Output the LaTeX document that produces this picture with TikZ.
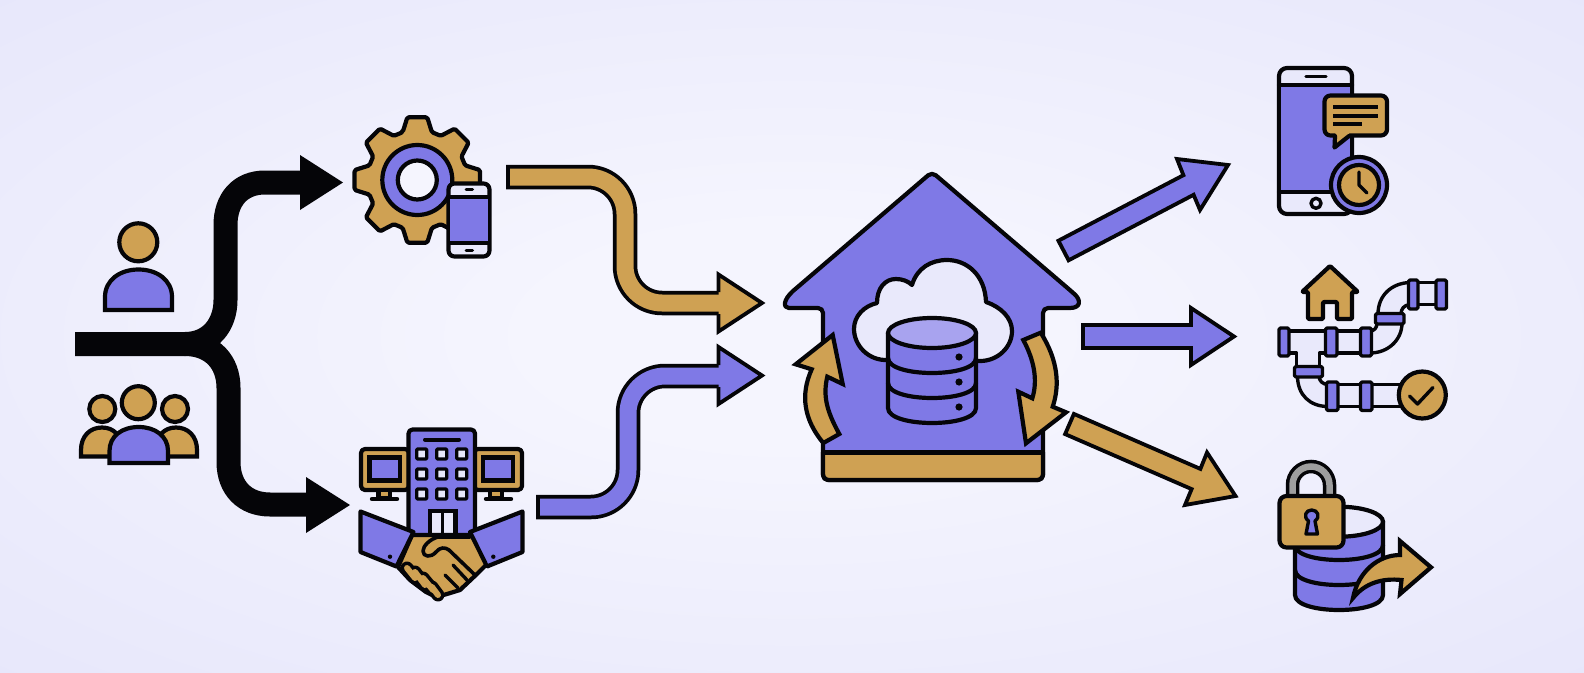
\documentclass[tikz,border=0pt]{standalone}
\usetikzlibrary{calc}
\definecolor{bgedge}{HTML}{E4E4FA}
\definecolor{bgmid}{HTML}{F5F5FE}
\definecolor{purp}{HTML}{7F79E6}
\definecolor{gold}{HTML}{CFA153}
\definecolor{pale}{HTML}{E9E9FB}
\definecolor{ink}{HTML}{050508}
\definecolor{topdb}{HTML}{A8A3EF}
\definecolor{shack}{HTML}{9E9E9E}
\pgfdeclareradialshading{bgglow}{\pgfpoint{0bp}{0bp}}{color(0bp)=(bgmid);color(8bp)=(bgmid);color(42bp)=(bgedge);color(60bp)=(bgedge);color(100bp)=(bgedge)}
\tikzset{
  ol/.style={draw=ink,line width=4.2pt,line join=round,line cap=round},
  ols/.style={ol,line width=3.4pt},
  pf/.style={ol,fill=purp},
  gf/.style={ol,fill=gold},
  wf/.style={ol,fill=pale},
  pfs/.style={ols,fill=purp},
  gfs/.style={ols,fill=gold},
  wfs/.style={ols,fill=pale},
  stroke/.style={draw=ink,line width=4pt,line cap=round,line join=round},
  head/.style={draw=ink,line width=3.8pt,line join=miter},
  tube/.style={line cap=butt,line join=round,rounded corners=37pt},
}
\begin{document}
\begin{tikzpicture}[x=1pt,y=-1pt]
\useasboundingbox (0,0) rectangle (1584,672);
\shade[shading=bgglow] (0,0) rectangle (1584,672);

% --- black branching arrow
\coordinate (trunkL) at (75,344);
\coordinate (trunkR) at (185,344);
\coordinate (upTip) at (343,182.5);
\coordinate (dnTip) at (350,505);
\draw[ink,line width=24pt] (trunkL) -- (trunkR) .. controls (210,344) and (225.5,325) .. (225.5,300) -- (225.5,225) .. controls (225.5,200) and (240,182.5) .. (265,182.5) -- (302,182.5);
\draw[ink,line width=24pt] (trunkR) .. controls (212,344) and (228.5,362) .. (228.5,388) -- (228.5,462) .. controls (228.5,488) and (245,504.5) .. (270,504.5) -- (308,504.5);
\fill[ink] (300,155) -- (upTip) -- (300,210) -- cycle;
\fill[ink] (306,477) -- (dnTip) -- (306,533) -- cycle;

% --- single user
\draw[gf] (138.3,242.3) circle[radius=19];
\draw[pf,line join=miter] (105,310) -- (105,297) .. controls (105,280) and (120,269.5) .. (138.5,269.5) .. controls (157,269.5) and (172,280) .. (172,297) -- (172,310) -- cycle;

% --- group of users
\draw[gf] (102.3,409) circle[radius=13];
\draw[gf] (175,409) circle[radius=13];
\draw[gf] (138.3,402.7) circle[radius=16.5];
\draw[gf,line join=miter] (81,456.5) -- (81,450) .. controls (81,436) and (90,427.5) .. (102,427.5) .. controls (114,427.5) and (122,436) .. (122,450) -- (122,456.5) -- cycle;
\draw[gf,line join=miter] (197,456.5) -- (197,450) .. controls (197,436) and (188,427.5) .. (176,427.5) .. controls (164,427.5) and (156,436) .. (156,450) -- (156,456.5) -- cycle;
\draw[pf,line join=miter] (109.5,463) -- (109.5,451) .. controls (109.5,436) and (122,427) .. (138.8,427) .. controls (155,427) and (168,436) .. (168,451) -- (168,463) -- cycle;

% --- gear with phone
\begin{scope}[shift={(417.3,180)}]
\draw[gf,line join=round,rounded corners=1.5pt] (-107:50)
  \foreach \a in {-90,-45,0,45,90,135,180,225} {
    -- ({\a-17}:50) -- ({\a-9}:63.5) -- ({\a+9}:63.5) -- ({\a+17}:50)
  } -- cycle;
\draw[pf] (0,0) circle[radius=35];
\draw[wf,fill=bgmid] (0,0) circle[radius=19.5];
\end{scope}
\draw[wf,rounded corners=6pt] (448.5,183.5) rectangle (489.5,256.5);
\fill[purp] (450,197) rectangle (488,243);
\draw[ols] (449,197) -- (489,197) (449,243) -- (489,243);
\draw[ink,line width=3pt,line cap=round] (466,189.5) -- (472.5,189.5) (466,250.5) -- (472.5,250.5);

% --- building, monitors, handshake
\draw[gf,rounded corners=4pt] (361,449) rectangle (409,490);
\draw[pf,line join=miter] (369.5,457.5) rectangle (400,480.5);
\draw[gf] (378.5,490) rectangle (390,498);
\draw[ink,line width=4.4pt,line cap=round] (372,499) -- (397,499);
\draw[gf,rounded corners=4pt] (474,449) rectangle (522,490);
\draw[pf,line join=miter] (483,457.5) rectangle (513,480.5);
\draw[gf] (490,490) rectangle (502,498);
\draw[ink,line width=4.4pt,line cap=round] (486,499) -- (511,499);
\draw[pf,rounded corners=4pt] (408.5,540) -- (408.5,429.5) -- (475,429.5) -- (475,540) -- cycle;
\draw[ink,line width=4pt,line cap=round] (425,439.5) -- (459,439.5);
\foreach \x in {421.7,441.7,461.7}
  \foreach \y in {454,474,494}
    \draw[wfs,rounded corners=1pt] (\x-5,\y-5) rectangle (\x+5,\y+5);
\draw[wf,line join=miter] (430,538) -- (430,511) -- (455.5,511) -- (455.5,538);
\draw[ink,line width=3.4pt] (442.7,511) -- (442.7,538);
% hands
\draw[gf] (412,535) -- (472,535) -- (487,564) -- (478,573) -- (460,590) -- (447,594) -- (436,597) -- (426,592) -- (410,580) -- (398,567) -- cycle;
\draw[ols,line width=3.6pt,fill=gold] (470,537) -- (438,537) .. controls (430,539) and (423,546) .. (423,551) .. controls (423,557) and (431,558) .. (436,552) .. controls (440,547) and (445,547) .. (449,550) -- (475,575);
\draw[stroke,line width=3.4pt] (453,565) -- (467,580) (445,575) -- (458,588);
\foreach \ax/\ay/\bx/\by in {407/568/415/578,415/572/425/585,423/578/433/590,432/587/438/595} {
  \draw[ink,line width=13pt,line cap=round] (\ax,\ay) -- (\bx,\by);
}
\foreach \ax/\ay/\bx/\by in {407/568/415/578,415/572/425/585,423/578/433/590,432/587/438/595} {
  \draw[gold,line width=6pt,line cap=round] (\ax,\ay) -- (\bx,\by);
}
% cuffs
\draw[pf] (360.5,511.5) -- (413.5,532) -- (396.5,566.5) -- (360.5,552) -- cycle;
\draw[pf] (522.5,511.5) -- (470,532) -- (487,566.5) -- (522.5,552) -- cycle;
\fill[ink] (390,556.7) circle[radius=2.2];
\fill[ink] (493.3,556.7) circle[radius=2.2];

% --- pipe arrows
\coordinate (gStart) at (506,177);
\coordinate (gInner) at (510,177);
\coordinate (gTip) at (762,303);
\coordinate (pStart) at (536,507);
\coordinate (pInner) at (540,507);
\coordinate (pTip) at (762,375.5);
\draw[tube,ink,line width=24.5pt] (gStart) -- (625,177) -- (625,303) -- (719,303);
\draw[head,fill=gold] (718.5,292) -- (718.5,274.5) -- (gTip) -- (718.5,331.5) -- (718.5,314);
\draw[tube,gold,line width=17pt] (gInner) -- (625,177) -- (625,303) -- (724,303);
\draw[tube,ink,line width=24.5pt] (pStart) -- (628,507) -- (628,376) -- (719,376);
\draw[head,fill=purp] (718.5,365) -- (718.5,347) -- (pTip) -- (718.5,404) -- (718.5,387);
\draw[tube,purp,line width=17pt] (pInner) -- (628,507) -- (628,376) -- (724,376);

% --- central house
\draw[pf,rounded corners=5pt] (932,172) -- (1071,291) {[sharp corners] .. controls (1081,300) and (1081,308) .. (1070,308)} -- (1043,308) -- (1043,480) -- (823,480) -- (823,308) -- (794,308) {[sharp corners] .. controls (783,308) and (783,300) .. (793,291)} -- cycle;
\draw[ink,fill=gold,line width=4.2pt,rounded corners=6pt,line join=round] (823,452) -- (823,480) -- (1043,480) -- (1043,452);
\draw[ink,line width=5pt] (823,452) -- (1043,452);
\draw[wf] (888,360) .. controls (868,361) and (854,345) .. (854,329) .. controls (854,316) and (864,306) .. (877,303) .. controls (877,288) and (885,279) .. (896,279) .. controls (902,279) and (908,281) .. (912,285) .. controls (917,268) and (931,260) .. (947,260) .. controls (967,260) and (985,275) .. (986,302) .. controls (1001,307) and (1012,318) .. (1012,331) .. controls (1012,347) and (998,361) .. (980,361) -- cycle;
% database
\draw[pf] (888,333) -- (888,408) .. controls (888,428) and (976,428) .. (976,408) -- (976,333) -- cycle;
\draw[ol,fill=topdb] (932,333) ellipse[x radius=44,y radius=15];
\draw[ol] (888,358) .. controls (888,378) and (976,378) .. (976,358);
\draw[ol] (888,383) .. controls (888,403) and (976,403) .. (976,383);
\fill[ink] (959,357) circle[radius=3.6] (959,382) circle[radius=3.6] (959,407) circle[radius=3.6];
% circular arrows
\draw[gf,line join=miter] (823.3,443) -- (839.3,434) .. controls (826,410) and (823,395) .. (827.3,376.7) -- (842.7,384) -- (832.7,335) -- (795.7,364.3) -- (811.7,369.3) .. controls (800,395) and (804,420) .. (823.3,443) -- cycle;
\draw[gf,line join=miter] (1023.3,340) -- (1040.7,332.7) .. controls (1058,360) and (1060,385) .. (1052.7,406.7) -- (1066,412.3) -- (1026,443.3) -- (1018.3,391.7) -- (1032.3,398.3) .. controls (1038,380) and (1034,360) .. (1023.3,340) -- cycle;

% --- output arrows
\coordinate (o1) at (1228,165);
\coordinate (o2) at (1234,336.5);
\coordinate (o3) at (1235.5,496);
\coordinate (o4) at (1431,567.3);
\draw[head,fill=purp] (1058.4,240.7) -- (1183.4,175.2) -- (1177,159) -- (o1) -- (1200,210) -- (1193.6,194.8) -- (1068.6,260.3) -- cycle;
\draw[head,fill=purp] (1083,325) -- (1191,325) -- (1191,308) -- (o2) -- (1191,365) -- (1191,348) -- (1083,348) -- cycle;
\draw[head,fill=gold] (1073.9,413.9) -- (1200.4,468.9) -- (1207,452.5) -- (o3) -- (1185,505) -- (1191.6,489.1) -- (1065.1,434.1) -- cycle;

% --- phone with chat and clock
\draw[wf,rounded corners=8pt] (1279,68) rectangle (1352,214);
\fill[purp] (1281,85) rectangle (1350,192);
\draw[ol] (1279,85) -- (1352,85) (1279,192) -- (1352,192);
\draw[ink,line width=3.4pt,line cap=round] (1306,76.7) -- (1326,76.7);
\draw[ol,line width=3.4pt] (1316,203.3) circle[radius=5];
\draw[gf,rounded corners=6pt] (1324.5,95.5) rectangle (1387,135.5);
\fill[gold] (1335.5,132) -- (1349,132) -- (1349,136) -- (1335,147) -- cycle;
\draw[ol] (1335,136) -- (1334.5,147.5) -- (1349,136);
\draw[ink,line width=3.6pt] (1333,106.7) -- (1378,106.7) (1333,115.7) -- (1378,115.7) (1333,124) -- (1361.5,124);
\draw[pf] (1359,185) circle[radius=28];
\draw[gf] (1359,185) circle[radius=20];
\draw[stroke,line width=3.4pt] (1359,172) -- (1359,185) -- (1367,193);

% --- pipes with house
\draw[gf,rounded corners=1pt] (1330,266) -- (1358,292) -- (1352,292) -- (1352,319) -- (1337,319) -- (1337,302) -- (1323,302) -- (1323,319) -- (1308,319) -- (1308,292) -- (1302,292) -- cycle;
% pipes
\draw[wfs,line join=round] (1300,331) -- (1370,331) -- (1370,353) -- (1319.5,353) -- (1319.5,368) -- (1296.5,368) -- (1296.5,353) -- (1285,353) -- (1285,331) -- cycle;
\draw[ols,fill=pale] (1370,353) .. controls (1388,353) and (1402,340) .. (1402,323) -- (1377,323) .. controls (1377,328) and (1374,331) .. (1370,331) -- cycle;
\draw[ols,fill=pale] (1378,314) .. controls (1378,295) and (1392,283) .. (1410,282.5) -- (1410,304.5) .. controls (1404,305) and (1401,309) .. (1401,314) -- cycle;
\draw[ols,fill=pale] (1415,282.5) rectangle (1438,304.5);
\draw[ols,fill=pale] (1297.5,376) .. controls (1297.5,395) and (1310,406.5) .. (1328,406.5) -- (1328,384.5) .. controls (1323,384.5) and (1319,381) .. (1319,376) -- cycle;
\draw[ols,fill=pale] (1336,384.5) rectangle (1402,406.5);
\foreach \xa/\ya/\xb/\yb in {1279/328/1289/356,1325.5/328/1337/356,1360.5/328/1371.5/356,1375.5/313.5/1404/324,1408.5/280/1418/309,1436/280/1446.5/309,1294.5/366.5/1322.5/377,1326.5/382/1338/410.5,1360.5/382/1372/410.5}
  \draw[pfs,rounded corners=1.5pt] (\xa,\ya) rectangle (\xb,\yb);
\draw[gf] (1422.3,395) circle[radius=23.5];
\draw[stroke,line width=3.4pt] (1409.5,396) -- (1417.5,404) -- (1433,387.5);

% --- locked database with arrow
\draw[pf] (1295,521.7) -- (1295,595) .. controls (1295,615) and (1383,615) .. (1383,595) -- (1383,521.7) -- cycle;
\draw[ol,fill=pale] (1339,521.7) ellipse[x radius=44,y radius=15];
\draw[ol] (1295,545) .. controls (1295,565) and (1383,565) .. (1383,545);
\draw[ol] (1295,570) .. controls (1295,590) and (1383,590) .. (1383,570);
\draw[ink,line width=13.5pt] (1292.5,497) -- (1292.5,485) .. controls (1292.5,474.8) and (1300.8,466.5) .. (1311,466.5) .. controls (1321.2,466.5) and (1329.5,474.8) .. (1329.5,485) -- (1329.5,497);
\draw[shack,line width=6.5pt] (1292.5,497) -- (1292.5,485) .. controls (1292.5,474.8) and (1300.8,466.5) .. (1311,466.5) .. controls (1321.2,466.5) and (1329.5,474.8) .. (1329.5,485) -- (1329.5,497);
\draw[gf,rounded corners=7pt] (1279.5,496) rectangle (1343.5,547.5);
\draw[pf,line width=3.4pt,line join=round] (1308.5,521) .. controls (1303,517) and (1305.5,510) .. (1311.7,510) .. controls (1318,510) and (1320.5,517) .. (1315,521) -- (1317.5,534) -- (1306,534) -- cycle;
\draw[gf,line join=miter] (1400,555) -- (1400,541) -- (o4) -- (1400,594) -- (1401.5,580) .. controls (1382,578) and (1365,583) .. (1353,598) .. controls (1358,572) and (1378,555) .. (1400,555) -- cycle;
\end{tikzpicture}
\end{document}
